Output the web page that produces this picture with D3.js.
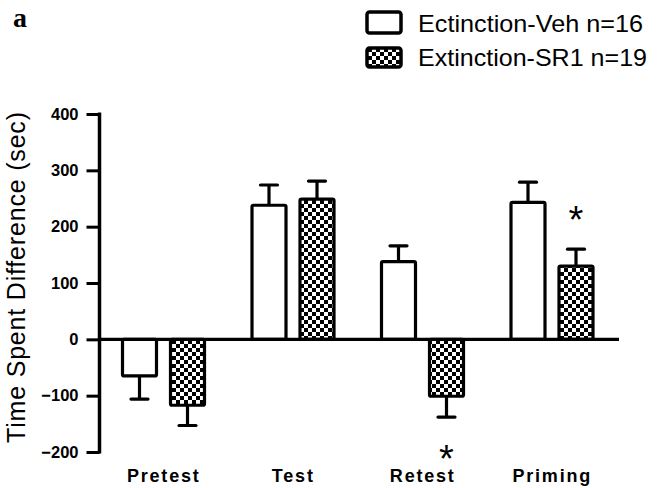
<!DOCTYPE html>
<html>
<head>
<meta charset="utf-8">
<script src="https://cdn.jsdelivr.net/npm/d3@7"></script>
<style>
  html, body { margin: 0; padding: 0; background: #fff; }
  svg { display: block; }
</style>
</head>
<body>
<svg id="chart" width="662" height="488"></svg>
<script>
// ---- data ----
const categories = ["Pretest", "Test", "Retest", "Priming"];
const seriesNames = ["Ectinction-Veh n=16", "Extinction-SR1 n=19"];
const vehMeans = [-65, 238, 138, 243];
const vehErrors = [41, 36, 28, 36];
const sr1Means = [-117, 249, -101, 130];
const sr1Errors = [36, 32, 37, 30];
const yTicks = [-200, -100, 0, 100, 200, 300, 400];
const significant = [{cat: "Retest", series: 1, pos: "below"}, {cat: "Priming", series: 1, pos: "above"}];

const svg = d3.select("#chart");
const defs = svg.append("defs");
const pat = defs.append("pattern").attr("id", "checker")
  .attr("patternUnits", "userSpaceOnUse").attr("width", 8).attr("height", 8);
pat.append("rect").attr("width", 8).attr("height", 8).attr("fill", "#fff");
pat.append("rect").attr("x", 0).attr("y", 0).attr("width", 4).attr("height", 4).attr("fill", "#000");
pat.append("rect").attr("x", 4).attr("y", 4).attr("width", 4).attr("height", 4).attr("fill", "#000");

const y = d3.scaleLinear().domain([-200, 400]).range([452, 114]);
const x = d3.scaleBand().domain(categories).range([99, 617]).padding(0);
const xs = d3.scaleBand().domain([0, 1]).range([23.5, 105.5]).paddingInner(14 / 48).paddingOuter(0);

const data = [];
categories.forEach((c, i) => {
  data.push({cat: c, s: 0, v: vehMeans[i], e: vehErrors[i]});
  data.push({cat: c, s: 1, v: sr1Means[i], e: sr1Errors[i]});
});

// error bars (drawn away from zero)
const eb = svg.append("g").attr("stroke", "#000").attr("stroke-width", 3.2).attr("fill", "none");
data.forEach(d => {
  const cx = x(d.cat) + xs(d.s) + xs.bandwidth() / 2;
  const end = d.v >= 0 ? d.v + d.e : d.v - d.e;
  eb.append("line").attr("x1", cx).attr("x2", cx).attr("y1", y(d.v)).attr("y2", y(end));
  eb.append("line").attr("x1", cx - 8.5).attr("x2", cx + 8.5).attr("y1", y(end)).attr("y2", y(end))
    .attr("stroke-linecap", "round");
});

// bars
svg.append("g").selectAll("rect").data(data).join("rect")
  .attr("x", d => x(d.cat) + xs(d.s))
  .attr("width", xs.bandwidth())
  .attr("y", d => y(Math.max(0, d.v)))
  .attr("height", d => Math.abs(y(d.v) - y(0)))
  .attr("fill", d => d.s === 0 ? "#fff" : "url(#checker)")
  .attr("stroke", "#000").attr("stroke-width", 3.2).attr("rx", 1.5);

// y axis
const yAxis = d3.axisLeft(y).tickValues(yTicks).tickSize(13).tickPadding(8);
const ga = svg.append("g").attr("transform", "translate(99.5,0)").call(yAxis);
ga.select(".domain").attr("d", `M0,${y(400) - 1.5}V${y(-200) + 1.5}`).attr("stroke", "#000").attr("stroke-width", 3.5);
ga.selectAll(".tick line").attr("stroke", "#000").attr("stroke-width", 3);
ga.selectAll(".tick text").attr("font-family", "Liberation Sans, Arial, sans-serif")
  .attr("font-weight", "bold").attr("font-size", 16.5).attr("fill", "#000");

// zero line
svg.append("line").attr("x1", 99).attr("x2", 619).attr("y1", y(0)).attr("y2", y(0))
  .attr("stroke", "#000").attr("stroke-width", 3.2);

// x category labels
svg.append("g").selectAll("text").data(categories).join("text")
  .attr("x", d => x(d) + x.bandwidth() / 2)
  .attr("y", 482)
  .attr("text-anchor", "middle")
  .attr("font-family", "Liberation Sans, Arial, sans-serif")
  .attr("font-weight", "bold").attr("font-size", 18).attr("letter-spacing", 1.8)
  .text(d => d);

// y title
svg.append("text")
  .attr("transform", "translate(25,277.5) rotate(-90)")
  .attr("text-anchor", "middle")
  .attr("font-family", "Liberation Sans, Arial, sans-serif")
  .attr("font-size", 25)
  .attr("textLength", 331).attr("lengthAdjust", "spacing")
  .text("Time Spent Difference (sec)");

// panel letter
svg.append("text").attr("x", 13).attr("y", 27)
  .attr("font-family", "Liberation Serif, Times New Roman, serif")
  .attr("font-weight", "bold").attr("font-size", 28).text("a");

// significance asterisks
significant.forEach(s => {
  const i = categories.indexOf(s.cat);
  const v = s.series === 0 ? vehMeans[i] : sr1Means[i];
  const e = s.series === 0 ? vehErrors[i] : sr1Errors[i];
  const cx = x(s.cat) + xs(s.series) + xs.bandwidth() / 2;
  const cy = s.pos === "above" ? y(v + e) - 38 : y(v - e) + 33;
  svg.append("text").attr("x", cx).attr("y", cy + 22)
    .attr("text-anchor", "middle")
    .attr("font-family", "Liberation Sans, Arial, sans-serif")
    .attr("font-size", 38).text("*");
});

// legend
const lg = svg.append("g");
const legendLengths = [225, 229];
seriesNames.forEach((name, i) => {
  const by = i === 0 ? 12 : 48;
  const bh = i === 0 ? 21 : 19;
  lg.append("rect").attr("x", 367).attr("y", by).attr("width", 34).attr("height", bh)
    .attr("rx", 2.5)
    .attr("fill", i === 0 ? "#fff" : "url(#checker)")
    .attr("stroke", "#000").attr("stroke-width", 3.5);
  lg.append("text").attr("x", 418).attr("y", i === 0 ? 32 : 66)
    .attr("font-family", "Liberation Sans, Arial, sans-serif")
    .attr("font-size", 24)
    .attr("textLength", legendLengths[i]).attr("lengthAdjust", "spacingAndGlyphs")
    .text(name);
});
</script>
</body>
</html>
